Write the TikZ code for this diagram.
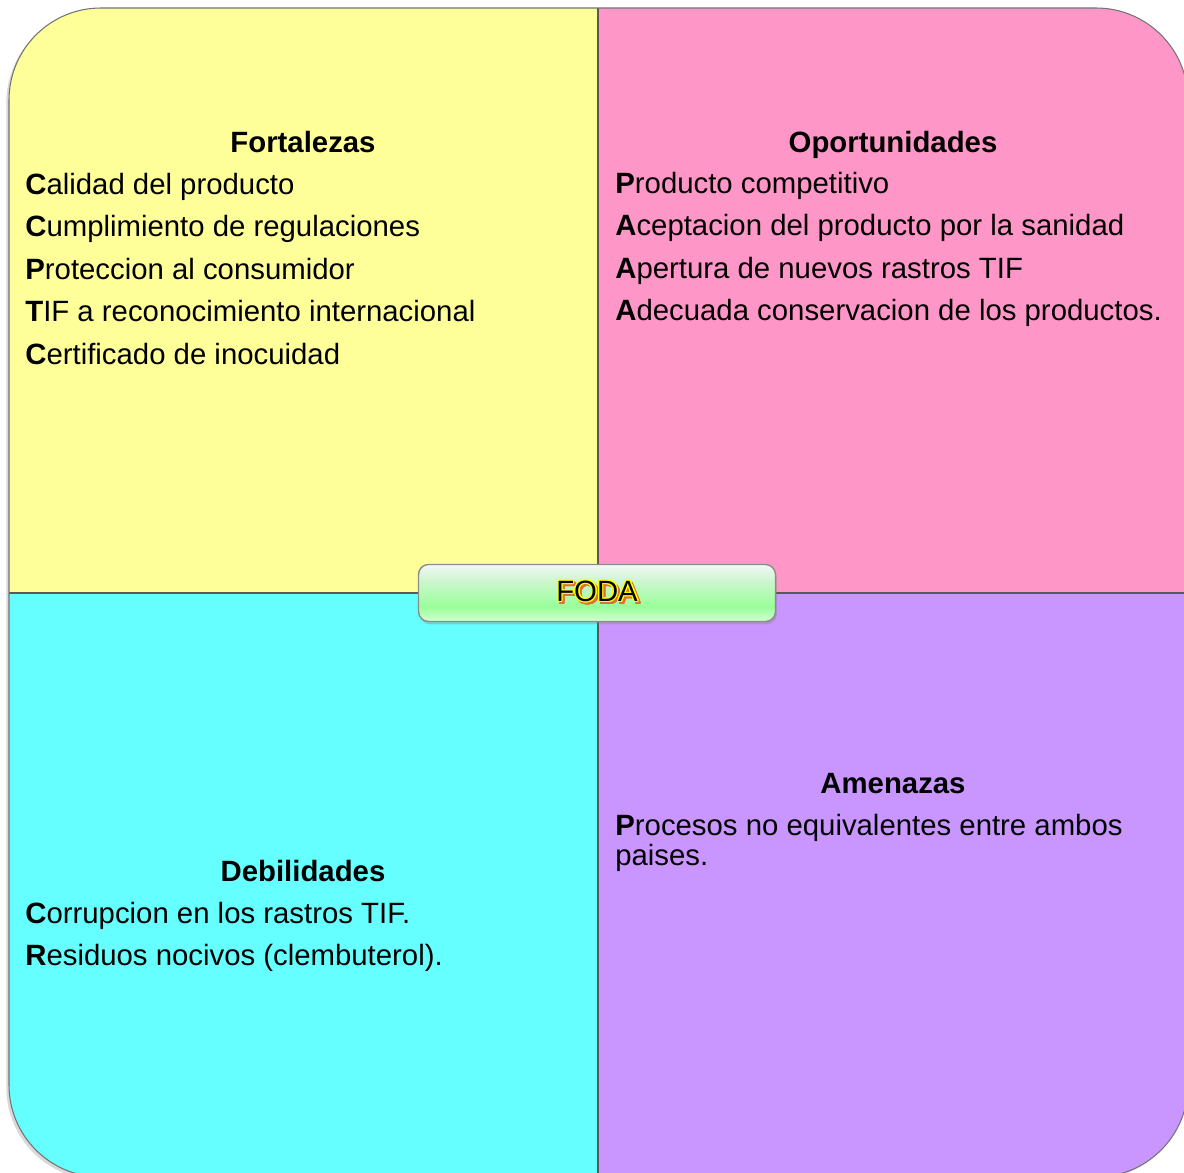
\documentclass[tikz,border=0pt]{standalone}
\usepackage{fontspec}
\setmainfont{Liberation Sans}
\usepackage{contour}
\usetikzlibrary{positioning,shadows}
\definecolor{fortColor}{HTML}{FFFF99}
\definecolor{oporColor}{HTML}{FF96C8}
\definecolor{debilColor}{HTML}{66FFFF}
\definecolor{amenColor}{HTML}{C996FF}
\definecolor{fodaLow}{HTML}{D4FFD4}
\definecolor{fodaMid}{HTML}{99FF99}
\definecolor{fodaHigh}{HTML}{CCF5CC}
\definecolor{fodaTop}{HTML}{F2F8F6}
\definecolor{fodaRim}{HTML}{FFFF00}
\definecolor{fodaShadow}{HTML}{E0703A}
\pgfdeclareverticalshading{fodaShade}{100bp}{color(0bp)=(fodaLow); color(25bp)=(fodaLow); color(38bp)=(fodaMid); color(60bp)=(fodaHigh); color(75bp)=(fodaTop); color(100bp)=(fodaTop)}
\contourlength{0.7pt}
\begin{document}
\begin{tikzpicture}[x=0.02cm, y=-0.02cm,
        titlenode/.style={font=\fontsize{16.7pt}{20pt}\selectfont\bfseries, inner sep=0pt},
        itemnode/.style={font=\fontsize{16.7pt}{20pt}\selectfont, inner sep=0pt, text height=17pt, text depth=6.8pt},
        quadline/.style={draw=black!65, line width=0.8pt},
        fodabox/.style={rectangle, rounded corners=0.2cm, draw=black!45, line width=0.8pt, shading=fodaShade, minimum width=7.14cm, minimum height=1.14cm, drop shadow={shadow xshift=0.8pt, shadow yshift=-1.6pt, opacity=0.35}, font=\fontsize{16.7pt}{20pt}\selectfont},
        ]
        \useasboundingbox (0,0) rectangle (1184,1173);
        %Background
        \path[fill=white, rounded corners=1.84cm, drop shadow={shadow xshift=-1.5pt, shadow yshift=-1.5pt, opacity=0.3}] (9,8) rectangle (1188,1177);
        \begin{scope}
            \clip[rounded corners=1.84cm] (9,8) rectangle (1188,1177);
            \fill[fortColor] (9,8) rectangle (598,593);
            \fill[oporColor] (598,8) rectangle (1188,593);
            \fill[debilColor] (9,593) rectangle (598,1177);
            \fill[amenColor] (598,593) rectangle (1188,1177);
            \draw[quadline] (598,8) -- (598,1177);
            \draw[quadline] (9,593) -- (1188,593);
        \end{scope}
        \draw[black!55, line width=0.6pt, rounded corners=1.84cm] (9,8) rectangle (1188,1177);

        %Fortalezas
        \node[titlenode, anchor=base] (fortTitle) at (303,152) {Fortalezas};
        \node[itemnode, anchor=base west] (fort1) at (25,194) {\textbf{C}alidad del producto};
        \node[itemnode, below right=0pt and 0pt of fort1.south west] (fort2) {\textbf{C}umplimiento de regulaciones};
        \node[itemnode, below right=0pt and 0pt of fort2.south west] (fort3) {\textbf{P}roteccion al consumidor};
        \node[itemnode, below right=0pt and 0pt of fort3.south west] (fort4) {\textbf{T}IF a reconocimiento internacional};
        \node[itemnode, below right=0pt and 0pt of fort4.south west] (fort5) {\textbf{C}ertificado de inocuidad};

        %Oportunidades
        \node[titlenode, anchor=base] (oporTitle) at (893,152) {Oportunidades};
        \node[itemnode, anchor=base west] (opor1) at (615,193) {\textbf{P}roducto competitivo};
        \node[itemnode, below right=0pt and 0pt of opor1.south west] (opor2) {\textbf{A}ceptacion del producto por la sanidad};
        \node[itemnode, below right=0pt and 0pt of opor2.south west] (opor3) {\textbf{A}pertura de nuevos rastros TIF};
        \node[itemnode, below right=0pt and 0pt of opor3.south west] (opor4) {\textbf{A}decuada conservacion de los productos.};

        %Debilidades
        \node[titlenode, anchor=base] (debilTitle) at (303,881) {Debilidades};
        \node[itemnode, anchor=base west] (debil1) at (25,923) {\textbf{C}orrupcion en los rastros TIF.};
        \node[itemnode, below right=0pt and 0pt of debil1.south west] (debil2) {\textbf{R}esiduos nocivos (clembuterol).};

        %Amenazas
        \node[titlenode, anchor=base] (amenTitle) at (893,793) {Amenazas};
        \node[itemnode, anchor=base west] (amen1) at (615,835) {\textbf{P}rocesos no equivalentes entre ambos};
        \node[itemnode, anchor=base west] (amen2) at (615,865) {paises.};

        %Centre
        \node[fodabox] (foda) at (597,593) {\makebox[0pt][l]{\hspace*{1.2pt}\raisebox{-1.2pt}{\color{fodaShadow}\contour{fodaShadow}{FODA}}}\contour{fodaRim}{FODA}};
    \end{tikzpicture}
\end{document}
